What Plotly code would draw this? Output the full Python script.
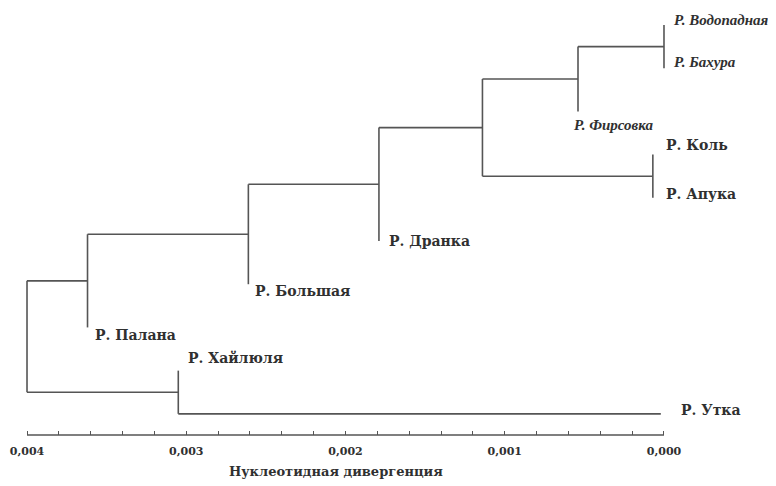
import plotly.graph_objects as go

# ---------------- data ----------------
leaf_names = ["Р. Водопадная", "Р. Бахура", "Р. Фирсовка", "Р. Коль", "Р. Апука",
              "Р. Дранка", "Р. Большая", "Р. Палана", "Р. Хайлюля", "Р. Утка"]
leaf_italic = [True, True, True, False, False, False, False, False, False, False]

# merges (child_a, child_b) -> new node "n1", "n2", ...
merge_children = [
    ("Р. Водопадная", "Р. Бахура"),   # n1
    ("n1", "Р. Фирсовка"),            # n2
    ("Р. Коль", "Р. Апука"),          # n3
    ("n2", "n3"),                     # n4
    ("n4", "Р. Дранка"),              # n5
    ("n5", "Р. Большая"),             # n6
    ("n6", "Р. Палана"),              # n7
    ("Р. Хайлюля", "Р. Утка"),        # n8
    ("n7", "n8"),                     # n9 (root)
]
merge_heights = [0.0, 0.00054, 0.00007, 0.00114, 0.00179, 0.00261, 0.00362, 0.00305, 0.00400]
# leaves whose branch reaches further than their parent node
leaf_tip = {"Р. Утка": 0.00002}

tick_vals = [0.004, 0.003, 0.002, 0.001, 0.000]
tick_text = ["0,004", "0,003", "0,002", "0,001", "0,000"]
axis_title = "Нуклеотидная дивергенция"

# label offsets in px (style)
label_dx = [8, 8, -6, 11, 11, 8, 5, 5, 8, 18]
label_dy = [-5, -6, 14, -10, -4, 0, 7, 8, -13, -4]

# ---------------- layout of tree ----------------
ypos = {name: i for i, name in enumerate(leaf_names)}
hpos = {name: None for name in leaf_names}
xs, ys = [], []
for k, ((a, b), h) in enumerate(zip(merge_children, merge_heights)):
    node = f"n{k+1}"
    for c in (a, b):
        ch = hpos.get(c)
        if ch is None:
            ch = leaf_tip.get(c, h)
            hpos[c] = ch
        if ch != h:
            xs += [h, ch, None]
            ys += [ypos[c], ypos[c], None]
    xs += [h, h, None]
    ys += [ypos[a], ypos[b], None]
    ypos[node] = (ypos[a] + ypos[b]) / 2
    hpos[node] = h

line_col = "#555555"
text_col = "#303030"
serif = "DejaVu Serif"
serif_it = "Liberation Serif"

fig = go.Figure()
fig.add_trace(go.Scatter(x=xs, y=ys, mode="lines",
                         line=dict(color=line_col, width=1.6),
                         hoverinfo="skip", showlegend=False))

for i, name in enumerate(leaf_names):
    if leaf_italic[i]:
        fnt = dict(family=serif_it, size=15, color=text_col, weight="bold", style="italic")
    else:
        fnt = dict(family=serif, size=14, color=text_col, weight="bold")
    fig.add_annotation(x=hpos[name], y=ypos[name], xref="x", yref="y",
                       text=name, showarrow=False, xanchor="left", yanchor="middle",
                       xshift=label_dx[i], yshift=-label_dy[i], font=fnt)

# axis line
fig.add_shape(type="line", xref="x", yref="paper", x0=tick_vals[0], x1=tick_vals[-1],
              y0=0, y1=0, line=dict(color=line_col, width=1.6))

fig.add_annotation(x=0.4854, y=-0.087, xref="paper", yref="paper", text=axis_title,
                   showarrow=False, xanchor="center", yanchor="middle",
                   font=dict(family=serif, size=13, color=text_col, weight="bold"))

fig.update_layout(
    width=768, height=478,
    margin=dict(l=12, r=105, t=2, b=51),
    paper_bgcolor="white", plot_bgcolor="white",
    xaxis=dict(range=[0.004044, -0.000044], showgrid=False, zeroline=False, showline=False,
               tickmode="array", tickvals=tick_vals, ticktext=tick_text,
               ticks="inside", ticklen=4, tickwidth=1.2, tickcolor=line_col,
               ticklabelstandoff=8,
               minor=dict(dtick=0.0002, tick0=0, ticks="inside", ticklen=4,
                          tickwidth=1.2, tickcolor=line_col),
               tickfont=dict(family=serif, size=11, color=text_col, weight="bold")),
    yaxis=dict(range=[9.49, -0.347], visible=False),
)

fig.write_html("out.html")
